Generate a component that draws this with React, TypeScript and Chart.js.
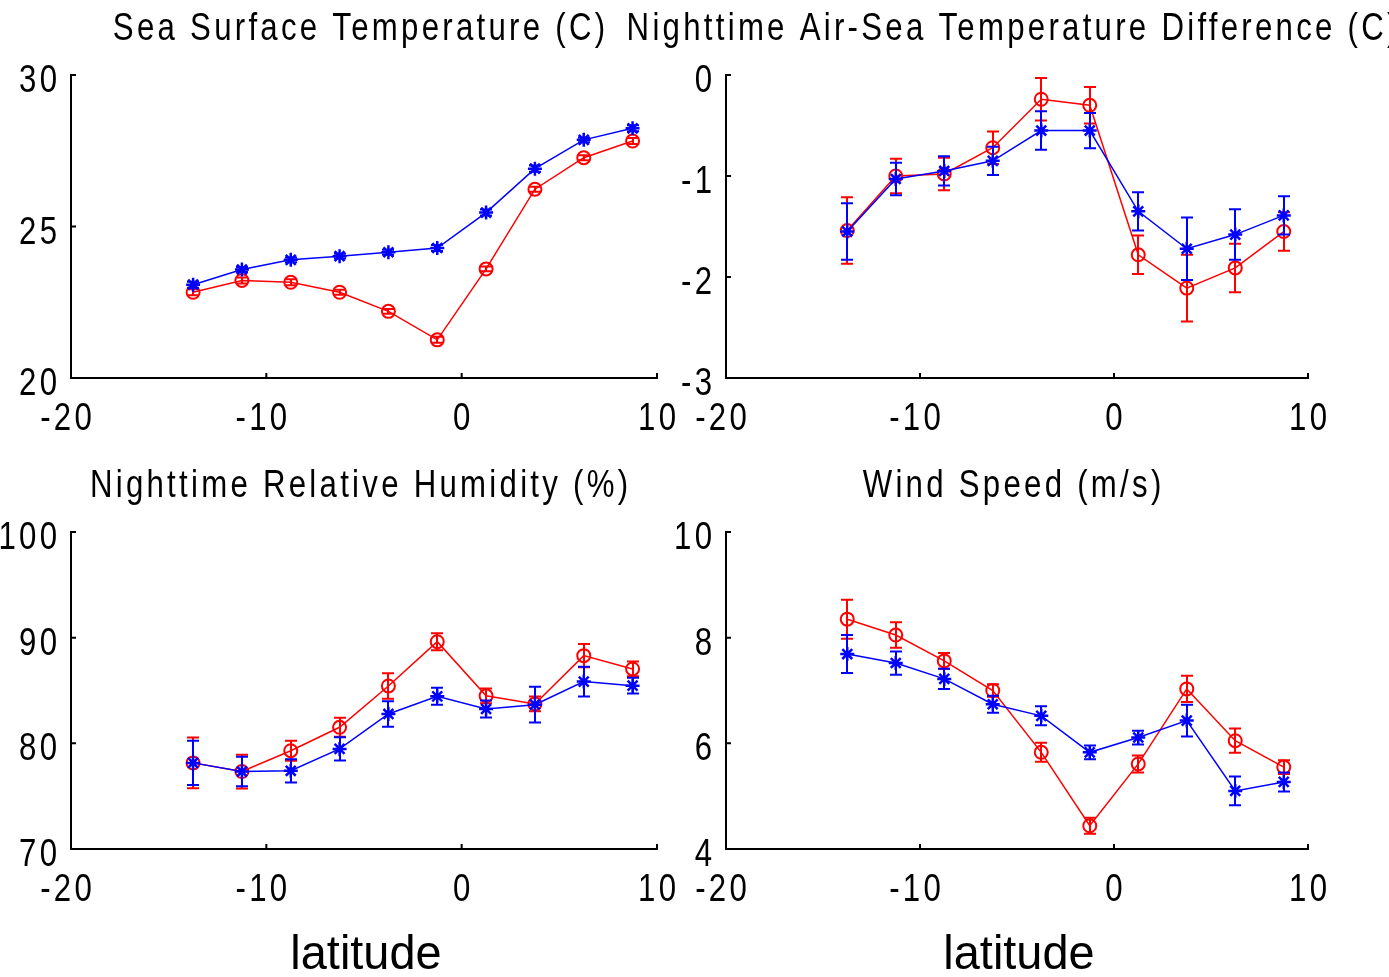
import React, { useEffect, useRef } from "react";
import { Chart, registerables } from "chart.js";

Chart.register(...registerables);

const W = 1389;
const H = 977;

// ---- data ----
const latitude = [-13.75, -11.25, -8.75, -6.25, -3.75, -1.25, 1.25, 3.75, 6.25, 8.75];
const xTicks = [-20, -10, 0, 10];

const sstBlue = [23.08, 23.58, 23.9, 24.02, 24.15, 24.29, 25.46, 26.91, 27.86, 28.24];
const sstBlueErr = [0.1, 0.08, 0.08, 0.08, 0.08, 0.1, 0.1, 0.1, 0.08, 0.1];
const sstRed = [22.83, 23.22, 23.16, 22.83, 22.2, 21.26, 23.6, 26.23, 27.27, 27.82];
const sstRedErr = [0.1, 0.1, 0.1, 0.08, 0.08, 0.1, 0.08, 0.08, 0.08, 0.1];

const airSeaBlue = [-1.55, -1.03, -0.95, -0.85, -0.55, -0.55, -1.35, -1.72, -1.58, -1.39];
const airSeaBlueErr = [0.28, 0.16, 0.145, 0.14, 0.19, 0.175, 0.19, 0.31, 0.25, 0.19];
const airSeaRed = [-1.54, -1.0, -0.98, -0.72, -0.24, -0.3, -1.78, -2.11, -1.91, -1.55];
const airSeaRedErr = [0.33, 0.17, 0.16, 0.16, 0.21, 0.18, 0.19, 0.33, 0.24, 0.19];

const rhBlue = [78.15, 77.33, 77.4, 79.47, 82.78, 84.45, 83.25, 83.66, 85.84, 85.46];
const rhBlueErr = [2.1, 1.4, 1.1, 1.1, 1.2, 0.8, 0.8, 1.7, 1.4, 0.75];
const rhRed = [78.15, 77.33, 79.3, 81.52, 85.43, 89.62, 84.5, 83.73, 88.3, 87.04];
const rhRedErr = [2.4, 1.6, 0.95, 0.9, 1.2, 0.8, 0.7, 0.7, 1.1, 0.7];

const windBlue = [7.69, 7.52, 7.22, 6.74, 6.52, 5.83, 6.11, 6.43, 5.1, 5.27];
const windBlueErr = [0.36, 0.22, 0.19, 0.16, 0.18, 0.13, 0.13, 0.3, 0.27, 0.18];
const windRed = [8.35, 8.05, 7.56, 7.0, 5.83, 4.44, 5.61, 7.03, 6.05, 5.55];
const windRedErr = [0.37, 0.24, 0.15, 0.12, 0.18, 0.15, 0.16, 0.25, 0.23, 0.13];

const titles = [
  "Sea Surface Temperature (C)",
  "Nighttime Air-Sea Temperature Difference (C)",
  "Nighttime Relative Humidity (%)",
  "Wind Speed (m/s)",
];
const xLabel = "latitude";

// ---- layout / style ----
const RED = "#ff0000";
const BLUE = "#0000ff";
const FONT = "'Liberation Sans', Arial, sans-serif";
const YW = 70;
const XH = 80;
const SX = 0.82; // horizontal squeeze to mimic the narrow bitmap font
const SPACING = 4;

type Panel = {
  title: string;
  yMin: number;
  yMax: number;
  yStep: number;
  blue: number[];
  blueErr: number[];
  red: number[];
  redErr: number[];
  area: { l: number; t: number; r: number; b: number };
  showXLabel: boolean;
};

const panels: Panel[] = [
  { title: titles[0], yMin: 20, yMax: 30, yStep: 5, blue: sstBlue, blueErr: sstBlueErr, red: sstRed, redErr: sstRedErr, area: { l: 71, t: 75, r: 657, b: 378 }, showXLabel: false },
  { title: titles[1], yMin: -3, yMax: 0, yStep: 1, blue: airSeaBlue, blueErr: airSeaBlueErr, red: airSeaRed, redErr: airSeaRedErr, area: { l: 726, t: 75, r: 1308, b: 378 }, showXLabel: false },
  { title: titles[2], yMin: 70, yMax: 100, yStep: 10, blue: rhBlue, blueErr: rhBlueErr, red: rhRed, redErr: rhRedErr, area: { l: 71, t: 532, r: 657, b: 849 }, showXLabel: true },
  { title: titles[3], yMin: 4, yMax: 10, yStep: 2, blue: windBlue, blueErr: windBlueErr, red: windRed, redErr: windRedErr, area: { l: 726, t: 532, r: 1308, b: 849 }, showXLabel: true },
];

function drawNarrow(ctx: CanvasRenderingContext2D, text: string, x: number, y: number, align: string, size: number) {
  ctx.save();
  ctx.font = `${size}px ${FONT}`;
  (ctx as any).letterSpacing = `${SPACING}px`;
  ctx.textAlign = "left";
  ctx.textBaseline = "alphabetic";
  const w = (ctx.measureText(text).width - SPACING) * SX;
  const left = align === "center" ? x - w / 2 : align === "right" ? x - w : x;
  ctx.translate(left, y);
  ctx.scale(SX, 1);
  ctx.fillStyle = "#000";
  ctx.fillText(text, 0, 0);
  ctx.restore();
}

const errorBarPlugin = {
  id: "errorBars",
  afterDatasetDraw(chart: any, args: any) {
    const ds = chart.data.datasets[args.index];
    const errs: number[] = ds.errors;
    if (!errs) return;
    const ys = chart.scales.y;
    const ctx = chart.ctx;
    ctx.save();
    ctx.strokeStyle = ds.borderColor;
    ctx.lineWidth = 2;
    args.meta.data.forEach((pt: any, i: number) => {
      const v = ds.data[i].y;
      const e = errs[i];
      const x = Math.round(pt.x);
      const y1 = ys.getPixelForValue(v - e);
      const y2 = ys.getPixelForValue(v + e);
      ctx.beginPath();
      ctx.moveTo(x, y1);
      ctx.lineTo(x, y2);
      ctx.moveTo(x - 6, y1);
      ctx.lineTo(x + 6, y1);
      ctx.moveTo(x - 6, y2);
      ctx.lineTo(x + 6, y2);
      ctx.stroke();
    });
    ctx.restore();
  },
};

const decorPlugin = {
  id: "decor",
  afterDraw(chart: any) {
    const ctx = chart.ctx;
    const p: Panel = chart.options.plugins.decor.panel;
    const xs = chart.scales.x;
    const ys = chart.scales.y;
    const ca = chart.chartArea;
    ctx.save();
    ctx.strokeStyle = "#000";
    ctx.lineWidth = 2;
    ctx.beginPath();
    xs.ticks.forEach((t: any) => {
      const x = xs.getPixelForValue(t.value);
      ctx.moveTo(x, ca.bottom);
      ctx.lineTo(x, ca.bottom - 5);
    });
    ys.ticks.forEach((t: any) => {
      const y = ys.getPixelForValue(t.value);
      ctx.moveTo(ca.left, y);
      ctx.lineTo(ca.left + 5, y);
    });
    ctx.stroke();
    ctx.restore();

    // tick labels
    xs.ticks.forEach((t: any) => {
      const x = xs.getPixelForValue(t.value) + (t.value < 0 ? -5 : 0);
      drawNarrow(ctx, String(t.value), x, ca.bottom + 52, "center", 38);
    });
    ys.ticks.forEach((t: any) => {
      const y = ys.getPixelForValue(t.value);
      drawNarrow(ctx, String(t.value), ca.left - 14, y + 17, "right", 38);
    });

    // title
    drawNarrow(ctx, p.title, (ca.left + ca.right) / 2 - 5, ca.top - 35, "center", 38);

    if (p.showXLabel) {
      ctx.save();
      ctx.fillStyle = "#000";
      ctx.textAlign = "center";
      ctx.textBaseline = "alphabetic";
      ctx.font = `46px ${FONT}`;
      ctx.translate((ca.left + ca.right) / 2 + 2, 969);
      ctx.scale(1.02, 1.06);
      ctx.fillText(xLabel, 0, 0);
      ctx.restore();
    }
  },
};

function PanelChart({ panel }: { panel: Panel }) {
  const ref = useRef<HTMLCanvasElement | null>(null);
  useEffect(() => {
    if (!ref.current) return;
    const a = panel.area;
    const toPts = (arr: number[]) => latitude.map((x, i) => ({ x, y: arr[i] }));
    const chart = new Chart(ref.current, {
      type: "line",
      data: {
        datasets: [
          {
            data: toPts(panel.blue),
            errors: panel.blueErr,
            borderColor: BLUE,
            backgroundColor: BLUE,
            borderWidth: 1.5,
            pointStyle: "star",
            pointRadius: 7,
            pointBorderWidth: 2.5,
            pointBorderColor: BLUE,
            pointBackgroundColor: "rgba(0,0,0,0)",
            tension: 0,
          } as any,
          {
            data: toPts(panel.red),
            errors: panel.redErr,
            borderColor: RED,
            backgroundColor: RED,
            borderWidth: 1.5,
            pointStyle: "circle",
            pointRadius: 6.5,
            pointBorderWidth: 2,
            pointBorderColor: RED,
            pointBackgroundColor: "rgba(0,0,0,0)",
            tension: 0,
          } as any,
        ],
      },
      options: {
        responsive: false,
        animation: false,
        devicePixelRatio: 1,
        events: [],
        layout: {
          padding: {
            left: a.l - YW,
            top: a.t,
            right: W - a.r,
            bottom: H - a.b - XH,
          },
        },
        plugins: {
          legend: { display: false },
          tooltip: { enabled: false },
          title: { display: false },
          decor: { panel },
        } as any,
        scales: {
          x: {
            type: "linear",
            min: -20,
            max: 10,
            afterFit: (s: any) => {
              s.height = XH;
            },
            afterBuildTicks: (s: any) => {
              s.ticks = xTicks.map((v) => ({ value: v }));
            },
            ticks: { display: false },
            grid: { display: true, drawOnChartArea: false, drawTicks: false },
            border: { display: true, color: "#000", width: 2 },
          },
          y: {
            type: "linear",
            min: panel.yMin,
            max: panel.yMax,
            afterFit: (s: any) => {
              s.width = YW;
            },
            ticks: { display: false, stepSize: panel.yStep },
            grid: { display: true, drawOnChartArea: false, drawTicks: false },
            border: { display: true, color: "#000", width: 2 },
          },
        },
      } as any,
      plugins: [errorBarPlugin, decorPlugin],
    });
    return () => chart.destroy();
  }, [panel]);
  return (
    <canvas
      ref={ref}
      width={W}
      height={H}
      style={{ position: "absolute", left: 0, top: 0, width: W, height: H }}
    />
  );
}

export default function App() {
  return (
    <div style={{ position: "absolute", left: 0, top: 0, width: W, height: H, background: "#fff", overflow: "hidden" }}>
      {panels.map((p, i) => (
        <PanelChart key={i} panel={p} />
      ))}
    </div>
  );
}
